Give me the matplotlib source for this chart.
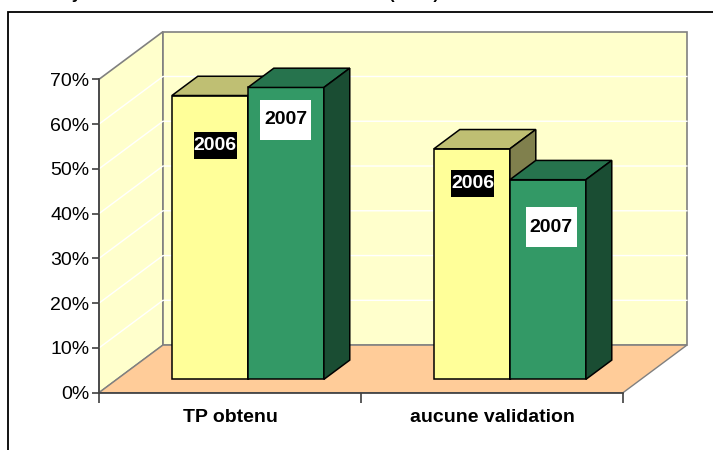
import matplotlib
matplotlib.use("Agg")
import matplotlib.pyplot as plt
from matplotlib.patches import Polygon, Rectangle
from matplotlib.ticker import FuncFormatter

plt.rcParams["font.family"] = ["Liberation Sans", "DejaVu Sans"]

# data
categories = ["TP obtenu", "aucune validation"]
years = ["2006", "2007"]
values_2006 = [63.4, 51.5]
values_2007 = [65.2, 44.6]
y_ticks = [0, 10, 20, 30, 40, 50, 60, 70]
title = "Analyse des résultats obtenus selon l'année (en %)"

# pseudo 3d layout (data units: x = category, y = percent)
DX, DY = 0.244, 10.63          # full depth of the floor
Z0, Z1 = 0.28, 0.685           # bar depth slice
BAR_W = 0.29
# label centre offsets from bar front-face centre / bar top
label_off = {"2006": [(0.02, -11.2), (0.004, -7.8)],
             "2007": [(0.0, -7.2), (0.013, -10.6)]}
label_box = {"2006": (43 / 262, 27 / 4.486), "2007": (51 / 262, 40 / 4.486)}

yellow = {"front": "#FFFF99", "top": "#BFBF73", "side": "#80804D"}
green = {"front": "#339966", "top": "#26734D", "side": "#1A4D33"}

fig = plt.figure(figsize=(7.13, 4.5), dpi=100)
ax = fig.add_axes([99 / 713, (450 - 392.7) / 450, 524 / 713, (392.7 - 79.3) / 450])
ax.set_xlim(0, 2)
ax.set_ylim(0, 70)
ax.patch.set_visible(False)


def poly(pts, fc, ec, lw=1.0, z=1):
    ax.add_patch(Polygon(pts, closed=True, facecolor=fc, edgecolor=ec, lw=lw,
                         zorder=z, clip_on=False, joinstyle="miter"))


ymax = y_ticks[-1]
# walls and floor
poly([(0, 0), (0, ymax), (DX, ymax + DY), (DX, DY)], "#FFFFCC", "#808080", 1.2)
poly([(DX, DY), (2 + DX, DY), (2 + DX, ymax + DY), (DX, ymax + DY)], "#FFFFCC", "#808080", 1.2)
poly([(0, 0), (2, 0), (2 + DX, DY), (DX, DY)], "#FFCC99", "#808080", 1.0)
for v in y_ticks[1:-1]:
    ax.plot([0, DX, 2 + DX], [v, v + DY, v + DY], color="white", lw=1.0,
            zorder=1.5, clip_on=False)


def draw_bar(xl, v, col):
    ox, oy = Z0 * DX, Z0 * DY
    ddx, ddy = (Z1 - Z0) * DX, (Z1 - Z0) * DY
    x0, x1 = xl + ox, xl + BAR_W + ox
    poly([(x0, oy), (x1, oy), (x1, v + oy), (x0, v + oy)], col["front"], "black", 1.1, 3)
    poly([(x0, v + oy), (x1, v + oy), (x1 + ddx, v + oy + ddy), (x0 + ddx, v + oy + ddy)],
         col["top"], "black", 1.1, 3)
    poly([(x1, oy), (x1 + ddx, oy + ddy), (x1 + ddx, v + oy + ddy), (x1, v + oy)],
         col["side"], "black", 1.1, 3)
    return (x0 + x1) / 2, v + oy


for i, cat in enumerate(categories):
    centre = i + 0.5
    for j, (year, vals, col) in enumerate([("2006", values_2006, yellow),
                                           ("2007", values_2007, green)]):
        xl = centre - BAR_W + j * BAR_W
        cx, top = draw_bar(xl, vals[i], col)
        lx = cx + label_off[year][i][0]
        ly = top + label_off[year][i][1]
        bw, bh = label_box[year]
        dark = year == "2006"
        ax.add_patch(Rectangle((lx - bw / 2, ly - bh / 2), bw, bh,
                               facecolor="black" if dark else "white",
                               edgecolor="none", zorder=4, clip_on=False))
        ax.text(lx, ly, year, ha="center", va="center", fontsize=14,
                fontweight="bold", color="white" if dark else "black", zorder=5)

# axes
for s in ["top", "right"]:
    ax.spines[s].set_visible(False)
for s in ["left", "bottom"]:
    ax.spines[s].set_color("#404040")
    ax.spines[s].set_linewidth(1.2)
    ax.spines[s].set_zorder(2.5)
ax.set_yticks(y_ticks)
ax.yaxis.set_major_formatter(FuncFormatter(lambda v, _: f"{v:.0f}%"))
ax.tick_params(axis="y", direction="out", length=5, width=1.2, color="#404040",
               labelsize=14, pad=2)
ax.set_xticks([0, 1, 2])
ax.set_xticklabels([])
ax.set_xticks([0.5, 1.5], minor=True)
ax.set_xticklabels(categories, minor=True, fontsize=14, fontweight="bold")
ax.tick_params(axis="x", which="major", direction="out", length=7, width=1.2,
               color="#404040")
ax.tick_params(axis="x", which="minor", length=0, pad=12)

# chart area border (runs off the right and bottom)
fig.add_artist(Rectangle((7.5 / 713, -0.05), 1.2, 1.05 - 12 / 450, transform=fig.transFigure,
                         facecolor="none", edgecolor="black", lw=1.3))
# title cut off by the top edge, as in the source
fig.text(36 / 713, 1 + 0.5 / 450, title, fontsize=12, fontweight="bold",
         va="baseline", ha="left")

fig.savefig("out.png", dpi=100)
